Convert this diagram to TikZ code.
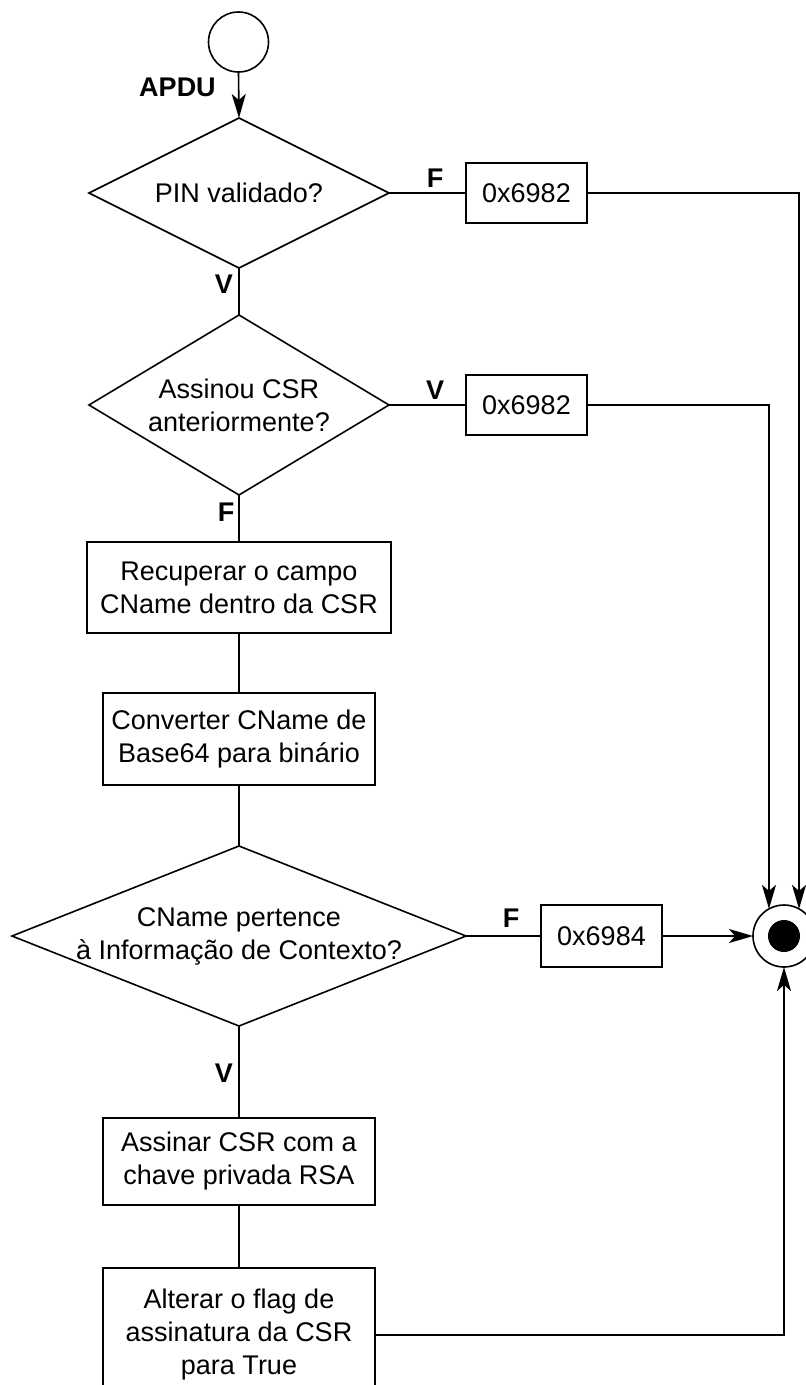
\documentclass[tikz,border=0pt]{standalone}
\usepackage{fontspec}
\setmainfont{Liberation Sans}
\usetikzlibrary{shapes.geometric,arrows.meta,calc}
\begin{document}
\begin{tikzpicture}[x=1pt,y=-1pt,
  every node/.style={font=\fontsize{27}{33}\selectfont},
  ln/.style={line width=1.6pt, draw=black},
  box/.style={draw=black, line width=1.6pt, rectangle, inner sep=0pt, outer sep=0pt, align=center},
  dia/.style={draw=black, line width=1.6pt, diamond, inner sep=0pt, outer sep=0pt},
  txt/.style={align=center, inner sep=0pt},
  lbl/.style={font=\bfseries\fontsize{27}{33}\selectfont, inner sep=0pt},
  arr/.style={line width=1.6pt, -{Stealth[length=24pt,width=14pt,inset=6pt]}},
  circ/.style={circle, draw=black, line width=1.6pt, inner sep=0pt, outer sep=0pt},
]
\useasboundingbox (0,0) rectangle (806,1385);
\clip (0,0) rectangle (806,1385);

% nodes
\node[circ, minimum size=60pt] (start) at (238.5,42) {};
\node[dia, minimum width=300pt, minimum height=150pt] (d1) at (239,193) {};
\node[txt] (d1t) at (d1) {PIN validado?};
\node[box, minimum width=121pt, minimum height=60pt] (b1) at (526.5,193) {0x6982};

\node[dia, minimum width=300pt, minimum height=180pt] (d2) at (239,405) {};
\node[txt] (d2t) at (d2) {Assinou CSR\\anteriormente?};
\node[box, minimum width=121pt, minimum height=60pt] (b2) at (526.5,405) {0x6982};

\node[box, minimum width=304pt, minimum height=91pt] (r1) at (239,587.5) {Recuperar o campo\\CName dentro da CSR};
\node[box, minimum width=272pt, minimum height=92pt] (r2) at (239,739) {Converter CName de\\Base64 para binário};

\node[dia, minimum width=454pt, minimum height=180pt] (d3) at (239,936) {};
\node[txt] (d3t) at (d3) {CName pertence\\à Informação de Contexto?};
\node[box, minimum width=121pt, minimum height=62pt] (b3) at (601.5,936) {0x6984};

\node[box, minimum width=272pt, minimum height=87pt] (r3) at (239,1161.5) {Assinar CSR com a\\chave privada RSA};
\node[box, minimum width=272pt, minimum height=134pt] (r4) at (239,1335) {Alterar o flag de\\assinatura da CSR\\para True};

\node[circ, minimum size=62pt] (endc) at (784,936) {};
\node[circle, fill=black, inner sep=0pt, minimum size=32pt] (endd) at (endc) {};

% labels
\node[lbl] (lapdu) at (177.5,87.5) {APDU};
\node[lbl] (lv1) at (224,284) {V};
\node[lbl] (lf1) at (435,178) {F};
\node[lbl] (lv2) at (435,390) {V};
\node[lbl] (lf2) at (226,512) {F};
\node[lbl] (lf3) at (511,918) {F};
\node[lbl] (lv3) at (224,1073) {V};

% connectors
\draw[arr] (start.south) -- (d1.north);
\draw[ln] (d1.east) -- (b1.west);
\draw[arr] (b1.east) -| (endc.61);
\draw[ln] (d1.south) -- (d2.north);
\draw[ln] (d2.east) -- (b2.west);
\draw[arr] (b2.east) -| (endc.119);
\draw[ln] (d2.south) -- (r1.north);
\draw[ln] (r1.south) -- (r2.north);
\draw[ln] (r2.south) -- (d3.north);
\draw[ln] (d3.east) -- (b3.west);
\draw[arr] (b3.east) -- (endc.west);
\draw[ln] (d3.south) -- (r3.north);
\draw[ln] (r3.south) -- (r4.north);
\draw[arr] (r4.east) -| (endc.south);
\end{tikzpicture}
\end{document}
